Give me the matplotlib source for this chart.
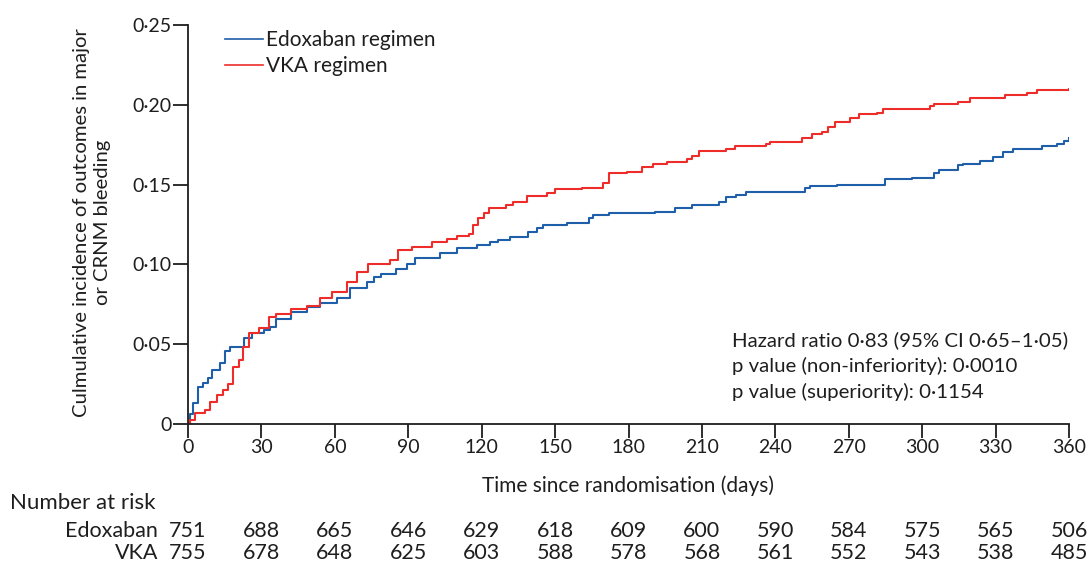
import matplotlib
matplotlib.use("Agg")
import matplotlib.pyplot as plt

# ---- data ----
edox_days = [0, 1, 2, 4, 6, 8, 10, 13, 15, 17, 23, 26, 31, 33.5, 36, 42, 48.6, 54, 61, 66,
             73, 76, 79, 85, 89.5, 92.8, 103, 110, 118, 123.4, 126.7, 131.6, 139, 142.6, 145,
             155, 164, 165.5, 172, 191, 199, 206, 217, 220, 224, 228, 252, 254, 265, 285,
             296, 305, 307, 314.6, 316.6, 323.6, 329, 333, 337, 349, 355, 358, 360]
edox_vals = [0, 0.006, 0.013, 0.023, 0.026, 0.029, 0.034, 0.038, 0.046, 0.048, 0.054, 0.057,
             0.059, 0.061, 0.066, 0.070, 0.073, 0.076, 0.079, 0.085, 0.089, 0.092, 0.094,
             0.097, 0.100, 0.104, 0.107, 0.110, 0.112, 0.114, 0.115, 0.117, 0.120, 0.1225,
             0.125, 0.126, 0.129, 0.131, 0.132, 0.133, 0.1355, 0.1375, 0.139, 0.142, 0.1435,
             0.1455, 0.148, 0.149, 0.150, 0.1535, 0.154, 0.157, 0.159, 0.162, 0.163, 0.165,
             0.167, 0.1705, 0.1725, 0.174, 0.1755, 0.1775, 0.179]

vka_days = [0, 1, 3, 7, 9, 12, 14.5, 16.5, 18.5, 21, 22.5, 25, 29, 33, 36, 42, 48.5, 54, 59,
            65, 69, 73.5, 82.5, 86, 91.5, 99.7, 106, 110, 115, 116.5, 118.5, 121, 123, 130,
            133, 138.5, 146.7, 150, 161, 169.5, 172, 179.5, 185.5, 190, 195.7, 204, 206, 209,
            220, 223.5, 236, 238, 251, 255, 259, 261.5, 264.4, 270.5, 274, 281.5, 284, 303,
            305, 314.6, 319.6, 334, 343, 347, 360]
vka_vals = [0, 0.0025, 0.007, 0.009, 0.014, 0.018, 0.021, 0.025, 0.036, 0.040, 0.048, 0.057,
            0.060, 0.067, 0.069, 0.072, 0.074, 0.079, 0.0825, 0.089, 0.095, 0.100, 0.1025,
            0.109, 0.111, 0.114, 0.116, 0.118, 0.119, 0.125, 0.129, 0.1325, 0.1355, 0.137,
            0.139, 0.143, 0.145, 0.147, 0.148, 0.151, 0.157, 0.158, 0.161, 0.163, 0.164,
            0.166, 0.168, 0.171, 0.1725, 0.174, 0.1755, 0.177, 0.179, 0.182, 0.183, 0.186,
            0.189, 0.192, 0.194, 0.195, 0.1975, 0.1995, 0.2005, 0.202, 0.204, 0.206, 0.2075,
            0.209, 0.21]

x_ticks = [0, 30, 60, 90, 120, 150, 180, 210, 240, 270, 300, 330, 360]
y_ticks = [0, 0.05, 0.10, 0.15, 0.20, 0.25]
y_tick_labels = ["0", "0·05", "0·10", "0·15", "0·20", "0·25"]

risk_edox = [751, 688, 665, 646, 629, 618, 609, 600, 590, 584, 575, 565, 506]
risk_vka = [755, 678, 648, 625, 603, 588, 578, 568, 561, 552, 543, 538, 485]

series_labels = ["Edoxaban regimen", "VKA regimen"]
risk_labels = ["Edoxaban", "VKA"]
colors = ["#1f5ea8", "#ee2d2a"]

stats_text = ["Hazard ratio 0·83 (95% CI 0·65–1·05)",
              "p value (non-inferiority): 0·0010",
              "p value (superiority): 0·1154"]

plt.rcParams["font.family"] = ["Lato", "DejaVu Sans"]
TXT = "#1e1e1e"

W, H = 1091, 569
fig = plt.figure(figsize=(W / 100, H / 100), dpi=100)
left, right, top, bottom = 188, 1069, 25, 424
ax = fig.add_axes([left / W, 1 - bottom / H, (right - left) / W, (bottom - top) / H])

ax.plot(edox_days, edox_vals, drawstyle="steps-post", color=colors[0], lw=1.5,
        label=series_labels[0])
ax.plot(vka_days, vka_vals, drawstyle="steps-post", color=colors[1], lw=1.5,
        label=series_labels[1])

ax.set_xlim(0, 360)
ax.set_ylim(0, 0.25)
ax.set_xticks(x_ticks)
ax.set_xticklabels([str(t) for t in x_ticks])
ax.set_yticks(y_ticks)
ax.set_yticklabels(y_tick_labels)
for s in ["top", "right"]:
    ax.spines[s].set_visible(False)
for s in ["left", "bottom"]:
    ax.spines[s].set_linewidth(1.3)
    ax.spines[s].set_color(TXT)
ax.tick_params(axis="both", direction="out", width=1.3, labelsize=14, colors=TXT,
               labelcolor=TXT)
ax.tick_params(axis="x", length=10, pad=1)
ax.tick_params(axis="y", length=11, pad=1)

ax.set_ylabel("Culmulative incidence of outcomes in major\nor CRNM bleeding",
              fontsize=14.6, linespacing=1.32, color=TXT)
ax.yaxis.set_label_coords(-0.087, 0.506)
ax.set_xlabel("Time since randomisation (days)", fontsize=15, color=TXT)
ax.xaxis.set_label_coords(0.5, -0.128)

leg = ax.legend(loc="upper left", bbox_to_anchor=(0.042, 0.987), frameon=False, fontsize=15,
                handlelength=1.8, handletextpad=0.15, labelspacing=0.3,
                borderpad=0, borderaxespad=0)
for t in leg.get_texts():
    t.set_color(TXT)
for h in leg.get_lines():
    h.set_linewidth(1.2)

for i, line in enumerate(stats_text):
    ax.text(0.618, 0.2105 - i * 0.065, line, transform=ax.transAxes, fontsize=14.7,
            ha="left", va="center", color=TXT)

tr = ax.get_xaxis_transform()
fig.text(10 / W, 1 - 503 / H, "Number at risk", fontsize=16, ha="left", va="center",
         color=TXT)
row_y = [(bottom - 531) / (bottom - top), (bottom - 553) / (bottom - top)]
for lab, ry, vals in zip(risk_labels, row_y, [risk_edox, risk_vka]):
    ax.text(-0.034, ry, lab, transform=ax.transAxes, fontsize=15.5, ha="right",
            va="center", color=TXT)
    for xt, v in zip(x_ticks, vals):
        ax.text(xt, ry, str(v), transform=tr, fontsize=15.5, ha="center", va="center",
                color=TXT, clip_on=False)

fig.savefig("out.png", dpi=100)
